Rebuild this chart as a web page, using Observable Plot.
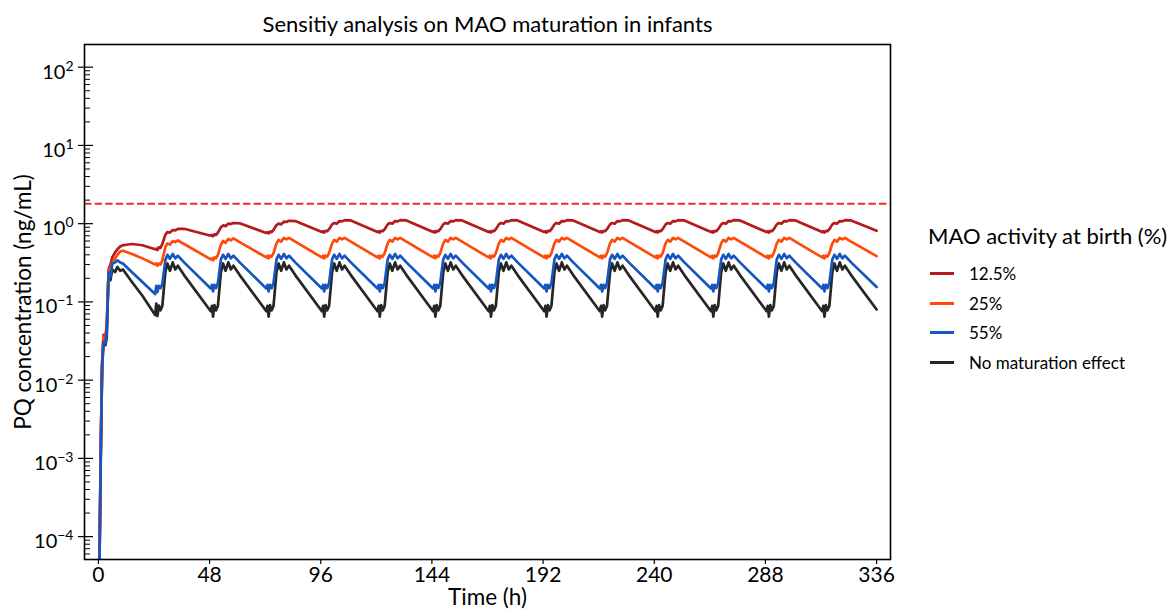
<!DOCTYPE html>
<html><head><meta charset="utf-8">
<script src="https://cdn.jsdelivr.net/npm/d3@7"></script>
<script src="https://cdn.jsdelivr.net/npm/@observablehq/plot@0.6"></script>
<style>
body{margin:0;background:#fff;font-family:Lato,"Open Sans",sans-serif;color:#000;}
#wrap{position:relative;width:1170px;height:609px;overflow:hidden;}
#legend div{position:absolute;white-space:nowrap;}
</style></head>
<body><div id="wrap"><div id="chart"></div><div id="legend"></div></div>
<script>
// ---- data ----
const series = ["12.5%", "25%", "55%", "No maturation effect"];
const colors = ["#b31b1e", "#ff4a0a", "#1556c2", "#262626"];
const legendTitle = "MAO activity at birth (%)";
const threshold = 1.8;
const xTicks = [0, 48, 96, 144, 192, 240, 288, 336];
const yMajor = [1e-4, 1e-3, 1e-2, 1e-1, 1, 10, 100];
const yMinor = [6e-5,7e-5,8e-5,9e-5,
  2e-4,3e-4,4e-4,5e-4,6e-4,7e-4,8e-4,9e-4,
  2e-3,3e-3,4e-3,5e-3,6e-3,7e-3,8e-3,9e-3,
  2e-2,3e-2,4e-2,5e-2,6e-2,7e-2,8e-2,9e-2,
  0.2,0.3,0.4,0.5,0.6,0.7,0.8,0.9,
  2,3,4,5,6,7,8,9, 20,30,40,50,60,70,80,90];

// hours of the first day
const day0Hours = [0.2, 1.0, 1.6, 2.2, 3.0, 3.6, 4.4, 5.2, 6.0, 7.2, 8.2, 9.4, 10.6, 14.5, 19.0];
// hours within each later 24 h dosing day
const cycleOffsets = [0.5, 1.0, 1.5, 2.1, 2.8, 3.6, 4.9, 5.8, 6.9, 8.1, 9.2, 10.3, 13.0];
const endHour = 336;

const red0    = [1e-5, 0.0012, 0.017, 0.038, 0.036, 0.05, 0.26, 0.30, 0.37, 0.43, 0.47, 0.51, 0.53, 0.55, 0.53];
const orange0 = [1e-5, 0.0011, 0.016, 0.036, 0.034, 0.045, 0.25, 0.27, 0.32, 0.36, 0.40, 0.44, 0.45, 0.41, 0.36];
const blue0   = [1e-5, 0.0010, 0.015, 0.031, 0.030, 0.040, 0.24, 0.21, 0.31, 0.32, 0.34, 0.32, 0.31, 0.24, 0.18];
const black0  = [1e-5, 0.0010, 0.014, 0.030, 0.028, 0.035, 0.23, 0.19, 0.26, 0.24, 0.28, 0.25, 0.26, 0.18, 0.12];

const redDays = [
  [0.47,0.48,0.46,0.50,0.49,0.55,0.72,0.78,0.77,0.83,0.82,0.86,0.86],
  [0.70,0.72,0.69,0.73,0.72,0.77,0.90,0.95,0.93,1.00,0.99,1.02,1.01],
  [0.76,0.78,0.75,0.79,0.78,0.83,0.96,1.00,0.98,1.06,1.05,1.09,1.08],
  [0.78,0.80,0.77,0.81,0.80,0.85,0.98,1.02,1.00,1.08,1.07,1.11,1.10],
  [0.78,0.80,0.77,0.81,0.80,0.85,0.98,1.02,1.00,1.08,1.07,1.11,1.10],
  [0.78,0.80,0.77,0.81,0.80,0.85,0.98,1.02,1.00,1.08,1.07,1.11,1.10],
  [0.78,0.80,0.77,0.81,0.80,0.85,0.98,1.02,1.00,1.08,1.07,1.11,1.10],
  [0.78,0.80,0.77,0.81,0.80,0.85,0.98,1.02,1.00,1.08,1.07,1.11,1.10],
  [0.78,0.80,0.77,0.81,0.80,0.85,0.98,1.02,1.00,1.08,1.07,1.11,1.10],
  [0.78,0.80,0.77,0.81,0.80,0.85,0.98,1.02,1.00,1.08,1.07,1.11,1.10],
  [0.78,0.80,0.77,0.81,0.80,0.85,0.98,1.02,1.00,1.08,1.07,1.11,1.10],
  [0.78,0.80,0.77,0.81,0.80,0.85,0.98,1.02,1.00,1.08,1.07,1.11,1.10],
  [0.78,0.80,0.77,0.81,0.80,0.85,0.98,1.02,1.00,1.08,1.07,1.11,1.10]
];
const orangeDays = [
  [0.30,0.31,0.29,0.31,0.30,0.34,0.50,0.56,0.54,0.60,0.58,0.61,0.55],
  [0.35,0.36,0.34,0.37,0.36,0.40,0.54,0.60,0.57,0.64,0.61,0.65,0.58],
  [0.37,0.39,0.36,0.39,0.38,0.42,0.56,0.62,0.59,0.66,0.63,0.66,0.59],
  [0.37,0.39,0.36,0.39,0.38,0.42,0.56,0.62,0.59,0.66,0.63,0.66,0.59],
  [0.37,0.39,0.36,0.39,0.38,0.42,0.56,0.62,0.59,0.66,0.63,0.66,0.59],
  [0.37,0.39,0.36,0.39,0.38,0.42,0.56,0.62,0.59,0.66,0.63,0.66,0.59],
  [0.37,0.39,0.36,0.39,0.38,0.42,0.56,0.62,0.59,0.66,0.63,0.66,0.59],
  [0.37,0.39,0.36,0.39,0.38,0.42,0.56,0.62,0.59,0.66,0.63,0.66,0.59],
  [0.37,0.39,0.36,0.39,0.38,0.42,0.56,0.62,0.59,0.66,0.63,0.66,0.59],
  [0.37,0.39,0.36,0.39,0.38,0.42,0.56,0.62,0.59,0.66,0.63,0.66,0.59],
  [0.37,0.39,0.36,0.39,0.38,0.42,0.56,0.62,0.59,0.66,0.63,0.66,0.59],
  [0.37,0.39,0.36,0.39,0.38,0.42,0.56,0.62,0.59,0.66,0.63,0.66,0.59],
  [0.37,0.39,0.36,0.39,0.38,0.42,0.56,0.62,0.59,0.66,0.63,0.66,0.59]
];
const blueDays = [
  [0.126,0.160,0.134,0.160,0.150,0.170,0.34,0.40,0.355,0.41,0.36,0.39,0.32],
  [0.148,0.165,0.136,0.165,0.150,0.175,0.35,0.40,0.355,0.41,0.36,0.39,0.32],
  [0.148,0.165,0.136,0.165,0.150,0.175,0.35,0.40,0.355,0.41,0.36,0.39,0.32],
  [0.148,0.165,0.136,0.165,0.150,0.175,0.35,0.40,0.355,0.41,0.36,0.39,0.32],
  [0.148,0.165,0.136,0.165,0.150,0.175,0.35,0.40,0.355,0.41,0.36,0.39,0.32],
  [0.148,0.165,0.136,0.165,0.150,0.175,0.35,0.40,0.355,0.41,0.36,0.39,0.32],
  [0.148,0.165,0.136,0.165,0.150,0.175,0.35,0.40,0.355,0.41,0.36,0.39,0.32],
  [0.148,0.165,0.136,0.165,0.150,0.175,0.35,0.40,0.355,0.41,0.36,0.39,0.32],
  [0.148,0.165,0.136,0.165,0.150,0.175,0.35,0.40,0.355,0.41,0.36,0.39,0.32],
  [0.148,0.165,0.136,0.165,0.150,0.175,0.35,0.40,0.355,0.41,0.36,0.39,0.32],
  [0.148,0.165,0.136,0.165,0.150,0.175,0.35,0.40,0.355,0.41,0.36,0.39,0.32],
  [0.148,0.165,0.136,0.165,0.150,0.175,0.35,0.40,0.355,0.41,0.36,0.39,0.32],
  [0.148,0.165,0.136,0.165,0.150,0.175,0.35,0.40,0.355,0.41,0.36,0.39,0.32]
];
const blackDays = [
  [0.068,0.095,0.066,0.090,0.078,0.089,0.24,0.31,0.25,0.32,0.26,0.29,0.22],
  [0.076,0.089,0.065,0.091,0.078,0.089,0.24,0.31,0.25,0.32,0.26,0.29,0.22],
  [0.076,0.089,0.065,0.091,0.078,0.089,0.24,0.31,0.25,0.32,0.26,0.29,0.22],
  [0.076,0.089,0.065,0.091,0.078,0.089,0.24,0.31,0.25,0.32,0.26,0.29,0.22],
  [0.076,0.089,0.065,0.091,0.078,0.089,0.24,0.31,0.25,0.32,0.26,0.29,0.22],
  [0.076,0.089,0.065,0.091,0.078,0.089,0.24,0.31,0.25,0.32,0.26,0.29,0.22],
  [0.076,0.089,0.065,0.091,0.078,0.089,0.24,0.31,0.25,0.32,0.26,0.29,0.22],
  [0.076,0.089,0.065,0.091,0.078,0.089,0.24,0.31,0.25,0.32,0.26,0.29,0.22],
  [0.076,0.089,0.065,0.091,0.078,0.089,0.24,0.31,0.25,0.32,0.26,0.29,0.22],
  [0.076,0.089,0.065,0.091,0.078,0.089,0.24,0.31,0.25,0.32,0.26,0.29,0.22],
  [0.076,0.089,0.065,0.091,0.078,0.089,0.24,0.31,0.25,0.32,0.26,0.29,0.22],
  [0.076,0.089,0.065,0.091,0.078,0.089,0.24,0.31,0.25,0.32,0.26,0.29,0.22],
  [0.076,0.089,0.065,0.091,0.078,0.089,0.24,0.31,0.25,0.32,0.26,0.29,0.22]
];
const endValues = [0.81, 0.385, 0.155, 0.080];

// ---- build table ----
function build(name, day0, days, end) {
  const rows = day0Hours.map((h, i) => ({t: h, c: day0[i], s: name}));
  days.forEach((vals, d) => cycleOffsets.forEach((o, i) => rows.push({t: 24 * (d + 1) + o, c: vals[i], s: name})));
  rows.push({t: endHour, c: end, s: name});
  return rows;
}
const data = [
  ...build(series[3], black0, blackDays, endValues[3]),
  ...build(series[0], red0, redDays, endValues[0]),
  ...build(series[1], orange0, orangeDays, endValues[1]),
  ...build(series[2], blue0, blueDays, endValues[2])
];

const svg = Plot.plot({
  width: 1170, height: 609,
  marginLeft: 84, marginRight: 280, marginTop: 44, marginBottom: 50,
  style: {fontFamily: "Lato, 'Open Sans', sans-serif", fontSize: "20px", background: "#fff", color: "#000"},
  x: {domain: [-6, 342]},
  y: {type: "log", domain: [5.1e-5, 195]},
  color: {domain: series, range: colors},
  marks: [
    Plot.ruleY([threshold], {stroke: "#ee2b2b", strokeWidth: 2, strokeDasharray: "7.4,3.2"}),
    Plot.line(data, {x: "t", y: "c", z: "s", stroke: "s", strokeWidth: 2.7, clip: true}),
    Plot.frame({stroke: "#000", strokeWidth: 1.6}),
    Plot.axisX(xTicks, {tickSize: 5, tickPadding: 3, fontSize: 21, label: null, strokeWidth: 1.2}),
    Plot.axisY(yMajor, {tickSize: 6, tickFormat: () => "", label: null, strokeWidth: 1.2}),
    Plot.axisY(yMajor, {tickSize: -9, tickFormat: () => "", label: null, strokeWidth: 1.2}),
    Plot.axisY(yMinor, {tickSize: -6, tickFormat: () => "", label: null, strokeWidth: 1}),
    Plot.text(yMajor, {y: d => d, text: d => "10^" + Math.round(Math.log10(d)), frameAnchor: "left", dx: -11, dy: 5, textAnchor: "end", lineAnchor: "middle", fontSize: 20}),
    Plot.text(["Sensitiy analysis on MAO maturation in infants"], {text: d => d, frameAnchor: "top", dy: -20, textAnchor: "middle", lineAnchor: "middle", fontSize: 22}),
    Plot.text(["Time (h)"], {text: d => d, frameAnchor: "bottom", dy: 38.5, textAnchor: "middle", lineAnchor: "middle", fontSize: 22.5}),
    Plot.text(["PQ concentration (ng/mL)"], {text: d => d, frameAnchor: "left", dx: -61, rotate: -90, textAnchor: "middle", lineAnchor: "middle", fontSize: 22.5})
  ]
});

svg.querySelectorAll("text").forEach(t => {
  if (!t.textContent.includes("^")) return;
  const [base, exp] = t.textContent.split("^");
  t.textContent = base;
  const ts = document.createElementNS("http://www.w3.org/2000/svg", "tspan");
  ts.setAttribute("dy", "-8");
  ts.setAttribute("font-size", "14");
  ts.textContent = exp.replace("-", "\u2212");
  t.appendChild(ts);
});
document.getElementById("chart").appendChild(svg);

// ---- legend (HTML, to the right of the plot) ----
const legend = document.getElementById("legend");
const lt = document.createElement("div");
lt.textContent = legendTitle;
Object.assign(lt.style, {left: "928px", top: "223px", fontSize: "22px", lineHeight: "26px"});
legend.appendChild(lt);
series.forEach((s, i) => {
  const y = 273.3 + i * 29.8;
  const sw = document.createElement("div");
  Object.assign(sw.style, {left: "930px", top: (y - 1.5) + "px", width: "24px", height: "3px", background: colors[i]});
  legend.appendChild(sw);
  const lab = document.createElement("div");
  lab.textContent = s;
  Object.assign(lab.style, {left: "969px", top: (y - 10.5) + "px", fontSize: "17px", lineHeight: "22px"});
  legend.appendChild(lab);
});
</script></body></html>
